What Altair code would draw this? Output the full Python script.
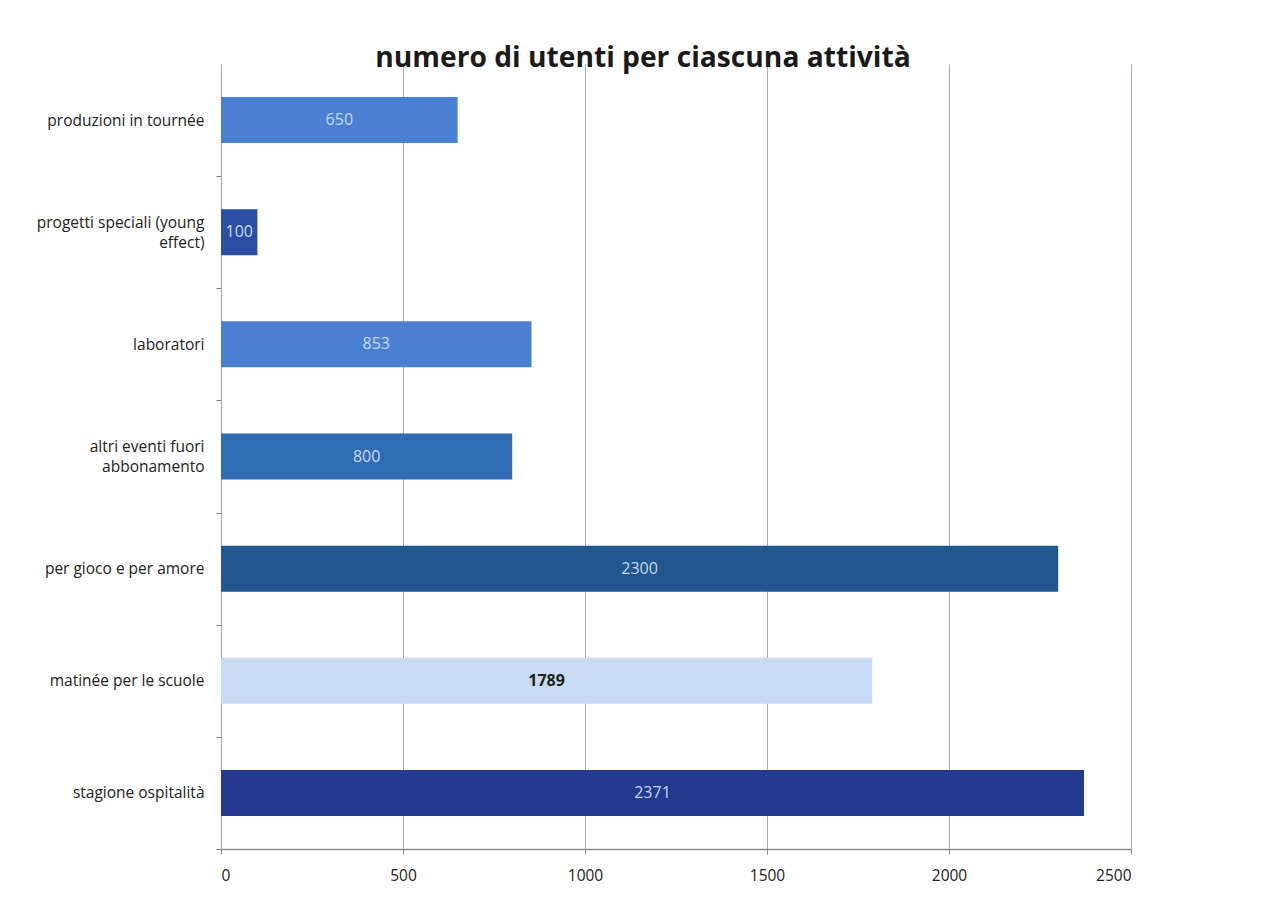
import altair as alt
import pandas as pd

categories = [
    "produzioni in tournée",
    "progetti speciali (young effect)",
    "laboratori",
    "altri eventi fuori abbonamento",
    "per gioco e per amore",
    "matinée per le scuole",
    "stagione ospitalità",
]
values = [650, 100, 853, 800, 2300, 1789, 2371]
bar_colors = ["#4a80d2", "#2a4ea4", "#4a80d2", "#2f6cb4", "#22568e", "#c7dcf4", "#243a90"]
label_colors = ["#c9d8f2", "#c9d8f2", "#c9d8f2", "#c9d8f2", "#c9d8f2", "#1e1e1e", "#c9d8f2"]
label_bold = [False, False, False, False, False, True, False]
x_ticks = [0, 500, 1000, 1500, 2000, 2500]

df = pd.DataFrame({
    "cat": categories,
    "val": values,
    "color": bar_colors,
    "lcolor": label_colors,
    "bold": label_bold,
})

label_expr = (
    "datum.value == 'progetti speciali (young effect)' ? ['progetti speciali (young', 'effect)'] : "
    "datum.value == 'altri eventi fuori abbonamento' ? ['altri eventi fuori', 'abbonamento'] : datum.value"
)
offset_expr = (
    "datum.value == 'progetti speciali (young effect)' || "
    "datum.value == 'altri eventi fuori abbonamento' ? -66 : -56"
)

y_enc = alt.Y(
    "cat:N",
    sort=categories,
    scale=alt.Scale(paddingInner=0.59, paddingOuter=0.295),
    axis=alt.Axis(
        title=None,
        labelExpr=label_expr,
        labelFont="Open Sans",
        labelFontSize=15.5,
        labelColor="#222222",
        labelPadding=12,
        labelLimit=260,
        tickOffset=56,
        labelOffset={"expr": offset_expr},
        tickSize=5,
        tickColor="#7a7a7a",
        domainColor="#9aa6b8",
        grid=False,
        labelLineHeight=20,
    ),
)

x_scale = alt.Scale(domain=[0, 2500], nice=False)

bars = alt.Chart(df).mark_bar().encode(
    y=y_enc,
    x=alt.X(
        "val:Q",
        scale=x_scale,
        axis=alt.Axis(
            title=None,
            values=x_ticks,
            format="d",
            grid=True,
            gridColor="#9eabc0",
            gridWidth=1,
            labelFont="Open Sans",
            labelFontSize=15.5,
            labelColor="#222222",
            labelPadding=14,
            tickSize=5,
            tickColor="#8a8a8a",
            domainColor="#8a8a8a",
            domainWidth=1.5,
        ),
    ),
    color=alt.Color("color:N", scale=None),
)

def value_text(bold):
    return alt.Chart(df).transform_filter(
        alt.datum.bold == bold
    ).transform_calculate(mid="datum.val / 2").mark_text(
        font="Open Sans", fontSize=16, baseline="middle", align="center",
        fontWeight="bold" if bold else "normal",
    ).encode(
        y=alt.Y("cat:N", sort=categories),
        x=alt.X("mid:Q", scale=x_scale),
        text=alt.Text("val:Q"),
        color=alt.Color("lcolor:N", scale=None),
    )

chart = alt.layer(bars, value_text(False), value_text(True)).properties(
    width=910,
    height=785,
    title=alt.TitleParams(
        "numero di utenti per ciascuna attività",
        font="Open Sans",
        fontSize=28.2,
        fontWeight="bold",
        color="#1a1a1a",
        anchor="middle",
        dx=-33,
        offset=-9,
    ),
    autosize=alt.AutoSizeParams(type="none"),
    padding={"left": 221, "top": 64, "right": 139, "bottom": 65},
    background="white",
).configure_view(stroke=None)

chart.save("out.html", embed_options={"renderer": "svg", "actions": False})
